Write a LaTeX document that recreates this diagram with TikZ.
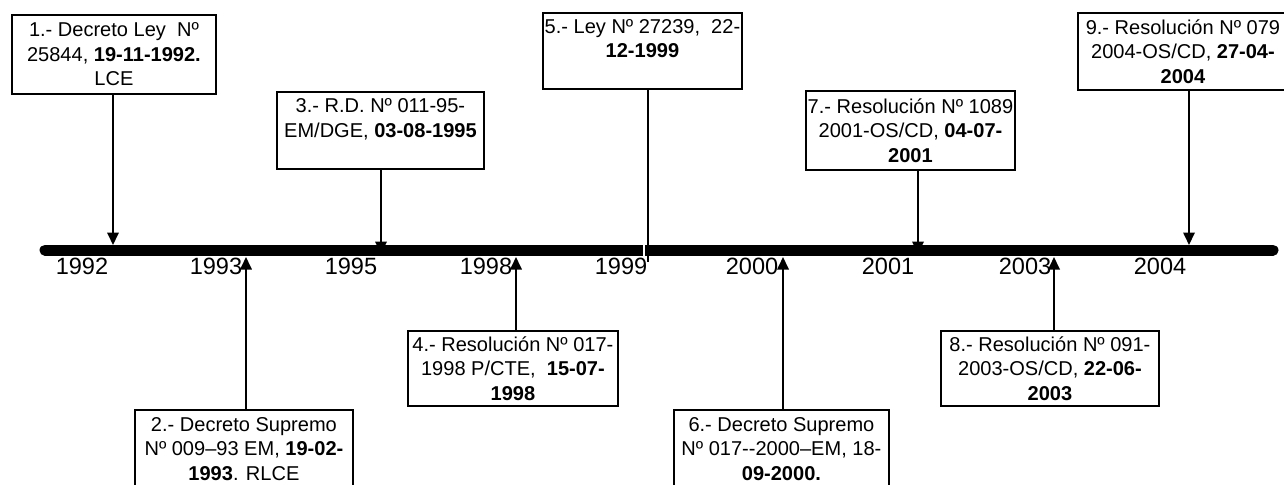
\documentclass[tikz,border=0pt]{standalone}
\usepackage{fontspec}
\setmainfont{Liberation Sans}
\usetikzlibrary{arrows.meta}

\begin{document}
\begin{tikzpicture}[
				x=0.02cm, y=-0.02cm,
				box/.style = {draw, line width=1.1pt, anchor=north west, align=center, inner sep=1pt, font=\fontsize{11.4}{14}\selectfont},
				year/.style = {font=\fontsize{13.4}{15}\selectfont},
				arrow/.style = {line width=1pt, -{Triangle[length=2.5mm, width=2.3mm]}}
				]
				\useasboundingbox (0,0) rectangle (1284,484);
				
				\draw[line width=0.22cm, line cap=round] (45,250) -- (1273,250);
				\draw[white, line width=1.2pt] (644,243) -- (644,257);
				
				\node[box, minimum width=4.08cm, minimum height=1.58cm] (b1) at (11,14) {1.- Decreto Ley~~Nº\\25844, \textbf{19-11-1992.}\\LCE};
				\node[box, minimum width=4.36cm, minimum height=1.56cm] (b2) at (134,409) {2.- Decreto Supremo\\Nº 009–93 EM, \textbf{19-02-}\\\textbf{1993}. RLCE};
				\node[box, minimum width=4.14cm, minimum height=1.54cm] (b3) at (276,91) {3.- R.D. Nº 011-95-\\EM/DGE, \textbf{03-08-1995}\\~};
				\node[box, minimum width=4.20cm, minimum height=1.50cm] (b4) at (407,330) {4.- Resolución Nº 017-\\1998 P/CTE,~~\textbf{15-07-}\\\textbf{1998}};
				\node[box, minimum width=3.88cm, minimum height=1.52cm] (b5) at (542,12) {5.- Ley Nº 27239,~~22-\\\textbf{12-1999}\\~};
				\node[box, minimum width=4.30cm, minimum height=1.56cm] (b6) at (673,409) {6.- Decreto Supremo\\Nº 017-{}-2000–EM, 18-\\\textbf{09-2000.}};
				\node[box, minimum width=4.16cm, minimum height=1.58cm] (b7) at (805,90) {7.- Resolución Nº 1089\\2001-OS/CD, \textbf{04-07-}\\\textbf{2001}};
				\node[box, minimum width=4.36cm, minimum height=1.50cm] (b8) at (940,330) {8.- Resolución Nº 091-\\2003-OS/CD, \textbf{22-06-}\\\textbf{2003}};
				\node[box, minimum width=4.20cm, minimum height=1.54cm] (b9) at (1077,12) {9.- Resolución Nº 079\\2004-OS/CD, \textbf{27-04-}\\\textbf{2004}};
				
				\coordinate (p1) at (113,245);
				\coordinate (p2) at (246,257);
				\coordinate (p3) at (381,254);
				\coordinate (p4) at (516,257);
				\coordinate (p5) at (648,262);
				\coordinate (p6) at (783,257);
				\coordinate (p7) at (918,254);
				\coordinate (p8) at (1054,257);
				\coordinate (p9) at (1189,245);
				
				\draw[arrow] (b1.south -| p1) -- (p1);
				\draw[arrow] (b2.north -| p2) -- (p2);
				\draw[arrow] (b3.south -| p3) -- (p3);
				\draw[arrow] (b4.north -| p4) -- (p4);
				\draw[line width=1pt] (b5.south -| p5) -- (p5);
				\draw[arrow] (b6.north -| p6) -- (p6);
				\draw[arrow] (b7.south -| p7) -- (p7);
				\draw[arrow] (b8.north -| p8) -- (p8);
				\draw[arrow] (b9.south -| p9) -- (p9);
				
				\node[year] (y1992) at (82,266) {1992};
				\node[year] (y1993) at (216,266) {1993};
				\node[year] (y1995) at (351,266) {1995};
				\node[year] (y1998) at (486,266) {1998};
				\node[year] (y1999) at (621,266) {1999};
				\node[year] (y2000) at (752,266) {2000};
				\node[year] (y2001) at (888,266) {2001};
				\node[year] (y2003) at (1025,266) {2003};
				\node[year] (y2004) at (1160,266) {2004};
			\end{tikzpicture}
\end{document}
